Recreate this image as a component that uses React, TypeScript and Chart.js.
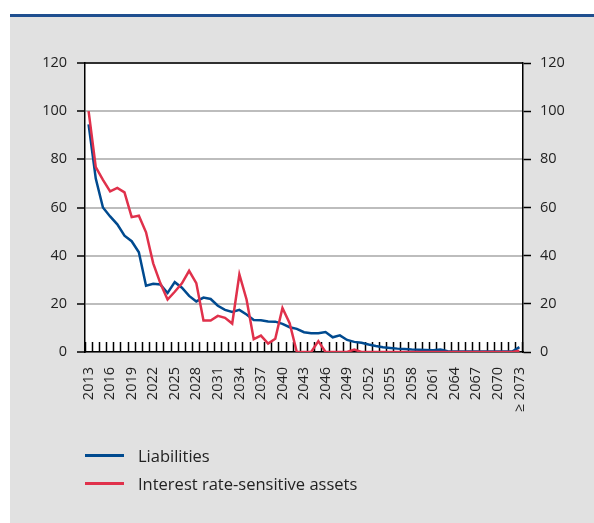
import React, { useEffect, useRef } from "react";
import { Chart, registerables } from "chart.js";

Chart.register(...registerables);

const years: string[] = [];
for (let y = 2013; y <= 2073; y++) years.push(y === 2073 ? "≥ 2073" : String(y));

const liabilities = [
  94.5, 72, 60, 56.3, 53, 48.3, 46, 41.4, 27.5, 28.3,
  28, 24.5, 29, 26.7, 23.3, 21, 22.6, 22, 19.2, 17.5,
  16.6, 17.5, 15.6, 13.3, 13.2, 12.7, 12.6, 11.7, 10.3, 9.6,
  8.2, 7.8, 7.8, 8.3, 6.1, 6.9, 5.0, 4.2, 3.8, 3.1,
  2.5, 2.0, 1.7, 1.4, 1.2, 1.0, 0.9, 0.8, 0.7, 1.0,
  0.3, 0.2, 0.2, 0.2, 0.2, 0.2, 0.2, 0.2, 0.2, 0.2,
  2.0,
];

const assets = [
  100, 76.8, 71.5, 66.7, 68.1, 66.3, 56, 56.6, 49.7, 36.8,
  28.5, 21.8, 25, 28.5, 33.7, 28.6, 13.1, 13.1, 15, 14.2,
  11.8, 32.2, 21.8, 5.3, 6.8, 3.5, 5.5, 18.3, 12, 0,
  0, 0, 4.5, 0, 0, 0, 0, 1.0, 0, 0,
  0, 0, 0, 0, 0, 0, 0, 0, 0, 0,
  0, 0, 0, 0, 0, 0, 0, 0, 0, 0,
  0.5,
];

const yTicks = [0, 20, 40, 60, 80, 100, 120];

const BLUE = "#004a8f";
const RED = "#e0314b";
const FONT = "'Open Sans', 'Noto Sans', sans-serif";

const frame = {
  id: "frame",
  beforeDraw(chart: any) {
    const { ctx, chartArea: a } = chart;
    ctx.save();
    ctx.fillStyle = "#ffffff";
    ctx.fillRect(a.left, a.top, a.right - a.left, a.bottom - a.top);
    ctx.restore();
  },
  afterDraw(chart: any) {
    const { ctx, chartArea: a } = chart;
    ctx.save();
    ctx.strokeStyle = "#000";
    ctx.lineWidth = 1.5;
    ctx.beginPath();
    ctx.moveTo(a.left, a.top);
    ctx.lineTo(a.right, a.top);
    ctx.stroke();
    ctx.restore();
  },
};

export default function App() {
  const ref = useRef<HTMLCanvasElement>(null);
  useEffect(() => {
    document.body.style.margin = "0";
    const chart = new Chart(ref.current!, {
      type: "line",
      data: {
        labels: years,
        datasets: [
          { label: "Interest rate-sensitive assets", data: assets, borderColor: RED, borderWidth: 2.5, pointRadius: 0, tension: 0 },
          { label: "Liabilities", data: liabilities, borderColor: BLUE, borderWidth: 2.5, pointRadius: 0, tension: 0 },
        ],
      },
      options: {
        responsive: false,
        animation: false,
        layout: { padding: { left: 35, right: 26, top: 32, bottom: 0 } },
        plugins: { legend: { display: false }, tooltip: { enabled: false } },
        scales: {
          x: {
            type: "category",
            offset: true,
            grid: {
              offset: true,
              drawOnChartArea: false,
              drawTicks: true,
              tickLength: -10,
              tickColor: "#000",
              tickWidth: 1.5,
            },
            border: { display: true, color: "#000", width: 1.5 },
            ticks: {
              autoSkip: false,
              minRotation: 90,
              maxRotation: 90,
              padding: 25,
              color: "#222",
              font: { family: FONT, size: 14.5 },
              callback: (_v: any, i: number) => (i % 3 === 0 ? years[i] : ""),
            },
            afterFit: (s: any) => { s.height = 99; },
          },
          y: {
            position: "left",
            min: 0,
            max: 120,
            afterBuildTicks: (s: any) => { s.ticks = yTicks.map((v) => ({ value: v })); },
            grid: { color: "#bdbdbd", lineWidth: 2, tickColor: "#000", tickLength: 8, tickWidth: 1.5 },
            border: { display: true, color: "#000", width: 1.5 },
            ticks: { padding: 10, color: "#222", font: { family: FONT, size: 14.5 } },
            afterFit: (s: any) => { s.width = 50; },
          },
          y2: {
            position: "right",
            min: 0,
            max: 120,
            afterBuildTicks: (s: any) => { s.ticks = yTicks.map((v) => ({ value: v })); },
            grid: { drawOnChartArea: false, tickColor: "#000", tickLength: 8, tickWidth: 1.5 },
            border: { display: true, color: "#000", width: 1.5 },
            ticks: { padding: 9, color: "#222", font: { family: FONT, size: 14.5 } },
            afterFit: (s: any) => { s.width = 45; },
          },
        },
      },
      plugins: [frame],
    });
    return () => chart.destroy();
  }, []);

  const legendItems = [
    { label: "Liabilities", color: BLUE, top: 455 },
    { label: "Interest rate-sensitive assets", color: RED, top: 483 },
  ];

  return (
    <div style={{ position: "relative", width: 594, height: 523, background: "#fff", overflow: "hidden", fontFamily: FONT }}>
      <div style={{ position: "absolute", left: 10, top: 14, right: 0, height: 3, background: "#1f4f8f" }} />
      <div style={{ position: "absolute", left: 10, top: 17, right: 0, bottom: 0, background: "#e1e1e1" }} />
      <canvas
        ref={ref}
        width={594}
        height={420}
        style={{ position: "absolute", left: 0, top: 31, width: 594, height: 420 }}
      />
      {legendItems.map((it) => (
        <div key={it.label} style={{ position: "absolute", left: 85, top: it.top - 12, height: 24, display: "flex", alignItems: "center" }}>
          <div style={{ width: 39, height: 3, background: it.color }} />
          <span style={{ marginLeft: 14, fontSize: 16.5, color: "#222", whiteSpace: "nowrap" }}>{it.label}</span>
        </div>
      ))}
    </div>
  );
}
